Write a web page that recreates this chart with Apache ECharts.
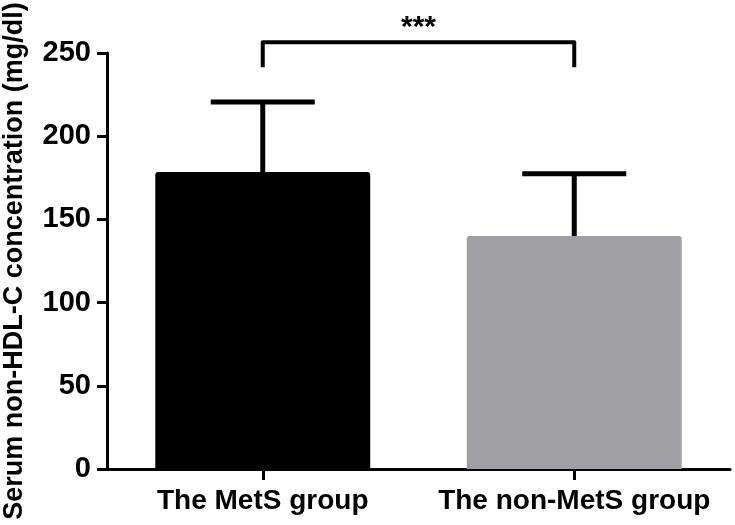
<!DOCTYPE html>
<html>
<head>
<meta charset="utf-8">
<script src="https://cdn.jsdelivr.net/npm/echarts@6/dist/echarts.min.js"></script>
<style>
  html, body { margin: 0; padding: 0; background: #fff; }
  #chart { width: 735px; height: 525px; }
</style>
</head>
<body>
<div id="chart"></div>
<script>
var groups = ['The MetS group', 'The non-MetS group'];
var means = [178.5, 140];
var upperErr = [220.5, 177.5];
var barColors = ['#000000', '#a09fa4'];
var yTicks = [0, 50, 100, 150, 200, 250];
// significance bracket between the two groups
var sigPair = [0, 1];
var sigTop = 256.5;
var sigLeg = 241.5;
var sigLabel = '***';

var chartDom = document.getElementById('chart');
var myChart = echarts.init(chartDom);
var font = 'Liberation Sans, Arial, sans-serif';

var option = {
  animation: false,
  grid: { left: 107, right: 5, top: 53, bottom: 56, outerBoundsMode: 'none', containLabel: false },
  xAxis: {
    type: 'category',
    data: groups,
    axisLine: { lineStyle: { color: '#000', width: 3 } },
    axisTick: { show: true, alignWithLabel: true, length: 11, lineStyle: { color: '#000', width: 3 } },
    axisLabel: {
      interval: 0, hideOverlap: false,
      color: '#000', fontWeight: 'bold', fontSize: 28, fontFamily: font, margin: 18
    }
  },
  yAxis: {
    type: 'value',
    min: yTicks[0],
    max: yTicks[yTicks.length - 1],
    interval: 50,
    name: 'Serum non-HDL-C concentration (mg/dl)',
    nameLocation: 'middle',
    nameRotate: 90,
    nameGap: 79,
    nameTextStyle: { color: '#000', fontWeight: 'bold', fontSize: 27, fontFamily: font },
    axisLine: { show: true, lineStyle: { color: '#000', width: 3 } },
    axisTick: { show: true, length: 10, lineStyle: { color: '#000', width: 3 } },
    axisLabel: { color: '#000', fontWeight: 'bold', fontSize: 29, fontFamily: font, margin: 16 },
    splitLine: { show: false }
  },
  series: [
    {
      type: 'bar',
      barWidth: '69%',
      data: means.map(function (v, i) {
        return { value: v, itemStyle: { color: barColors[i], borderRadius: [3, 3, 0, 0] } };
      }),
      z: 2
    },
    {
      type: 'custom',
      z: 3,
      data: means.map(function (v, i) { return [i, v, upperErr[i]]; }),
      renderItem: function (params, api) {
        var base = api.coord([api.value(0), api.value(1)]);
        var top = api.coord([api.value(0), api.value(2)]);
        var half = api.size([1, 0])[0] * 0.167;
        var st = { stroke: '#000', lineWidth: 5 };
        return {
          type: 'group',
          children: [
            { type: 'line', shape: { x1: base[0], y1: base[1], x2: top[0], y2: top[1] }, style: st },
            { type: 'line', shape: { x1: top[0] - half, y1: top[1], x2: top[0] + half, y2: top[1] }, style: st }
          ]
        };
      }
    },
    {
      type: 'custom',
      z: 3,
      clip: false,
      data: [[sigPair[0] - 0.02, sigPair[1], sigTop, sigLeg]],
      renderItem: function (params, api) {
        var a0 = api.coord([api.value(0), api.value(3)]);
        var a1 = api.coord([api.value(0), api.value(2)]);
        var b1 = api.coord([api.value(1), api.value(2)]);
        var b0 = api.coord([api.value(1), api.value(3)]);
        return {
          type: 'group',
          children: [
            {
              type: 'polyline',
              shape: { points: [a0, a1, b1, b0] },
              style: { stroke: '#000', lineWidth: 4, fill: null, lineJoin: 'round' }
            },
            {
              type: 'text',
              x: (a1[0] + b1[0]) / 2,
              y: a1[1] + 1,
              style: {
                text: sigLabel,
                fill: '#000',
                font: 'bold 30px ' + font,
                align: 'center',
                verticalAlign: 'bottom'
              }
            }
          ]
        };
      }
    }
  ]
};

myChart.setOption(option);
</script>
</body>
</html>
